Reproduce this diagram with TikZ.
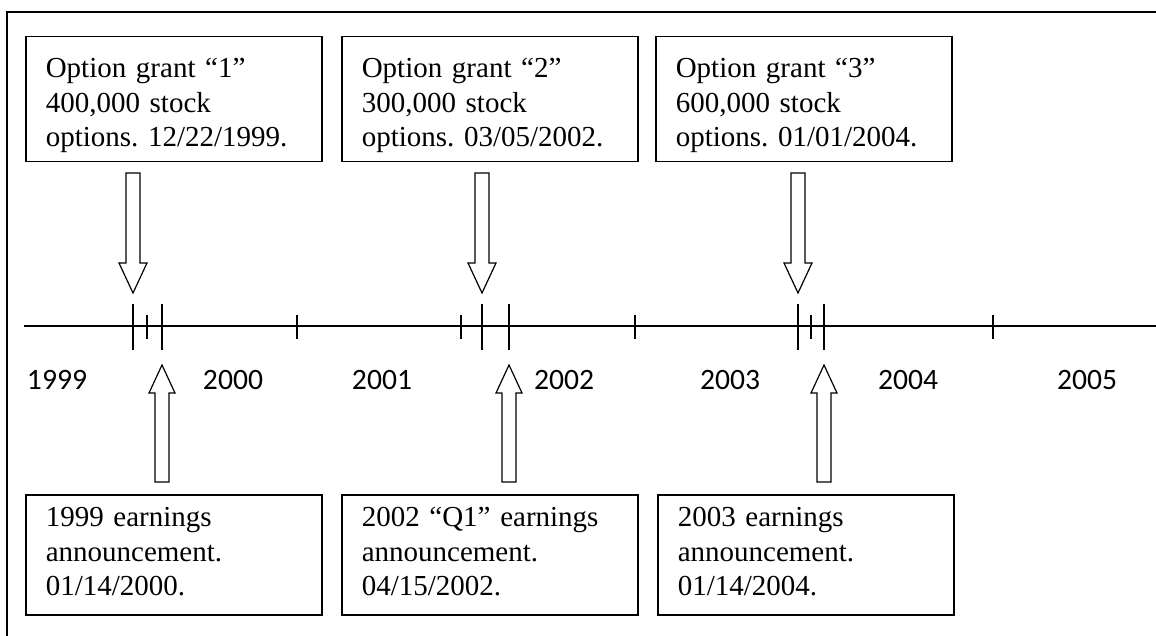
\documentclass[tikz,border=0pt]{standalone}
\usepackage{fontspec}
\setmainfont{Liberation Serif}
\newfontfamily\yearfont{Carlito}
\usepackage{tikz}

\begin{document}
\begin{tikzpicture}[x=0.5pt,y=-0.5pt,
  event/.style={draw,line width=0.75pt,anchor=north west,inner xsep=10pt,inner ysep=0pt,
        text width=128pt,align=left,font=\fontsize{14.5}{17.25}\selectfont\frenchspacing},
  tick/.style={line width=0.75pt},
  year/.style={font=\yearfont\fontsize{14.8}{16}\selectfont},
  blockarrow/.style={draw,line width=0.6pt,line join=miter}]
  \useasboundingbox (0,0) rectangle (1156,636);
  % frame
  \draw[line width=1pt] (7,636) -- (7,12) -- (1156,12);

  % option grants
  \node[event] (grant1) at (25,36)  {\rule{0pt}{20.5pt}Option grant ``1''\\400,000 stock\\options. 12/22/1999.\rule[-7.5pt]{0pt}{0pt}};
  \node[event] (grant2) at (341,36) {\rule{0pt}{20.5pt}Option grant ``2''\\300,000 stock\\options. 03/05/2002.\rule[-7.5pt]{0pt}{0pt}};
  \node[event] (grant3) at (655,36) {\rule{0pt}{20.5pt}Option grant ``3''\\600,000 stock\\options. 01/01/2004.\rule[-7.5pt]{0pt}{0pt}};

  % earnings announcements
  \node[event] (earn1) at (25,494)  {\rule{0pt}{16pt}1999 earnings\\announcement.\\01/14/2000.\rule[-9.5pt]{0pt}{0pt}};
  \node[event] (earn2) at (341,494) {\rule{0pt}{16pt}2002 ``Q1'' earnings\\announcement.\\04/15/2002.\rule[-9.5pt]{0pt}{0pt}};
  \node[event] (earn3) at (657,494) {\rule{0pt}{16pt}2003 earnings\\announcement.\\01/14/2004.\rule[-9.5pt]{0pt}{0pt}};

  % time line
  \coordinate (axisL) at (24,326);
  \coordinate (axisR) at (1156,326);
  \draw[line width=0.75pt] (axisL) -- (axisR);
  \foreach \x in {133,162,482,509,798,824}
    \draw[tick] (\x,304) -- (\x,350);
  \foreach \x in {147,297,461,635,811,993}
    \draw[tick] (\x,315) -- (\x,339);

  % years
  \foreach \x/\yr in {57/1999,233/2000,382/2001,564/2002,730/2003,908/2004,1087/2005}
    \node[year] (y\yr) at (\x,380) {\yr};

  % block arrows
  \coordinate (g1) at (133,326);
  \coordinate (g2) at (482,326);
  \coordinate (g3) at (798,326);
  \coordinate (e1) at (162,326);
  \coordinate (e2) at (509,326);
  \coordinate (e3) at (824,326);
  \foreach \g in {g1,g2,g3}
    \draw[blockarrow] (\g) ++(0,-33) -- ++(-14,-30) -- ++(7,0) -- ++(0,-90)
      -- ++(14,0) -- ++(0,90) -- ++(7,0) -- cycle;
  \foreach \e in {e1,e2,e3}
    \draw[blockarrow] (\e) ++(0,39) -- ++(-13,28) -- ++(6,0) -- ++(0,89)
      -- ++(14,0) -- ++(0,-89) -- ++(6,0) -- cycle;
\end{tikzpicture}
\end{document}
